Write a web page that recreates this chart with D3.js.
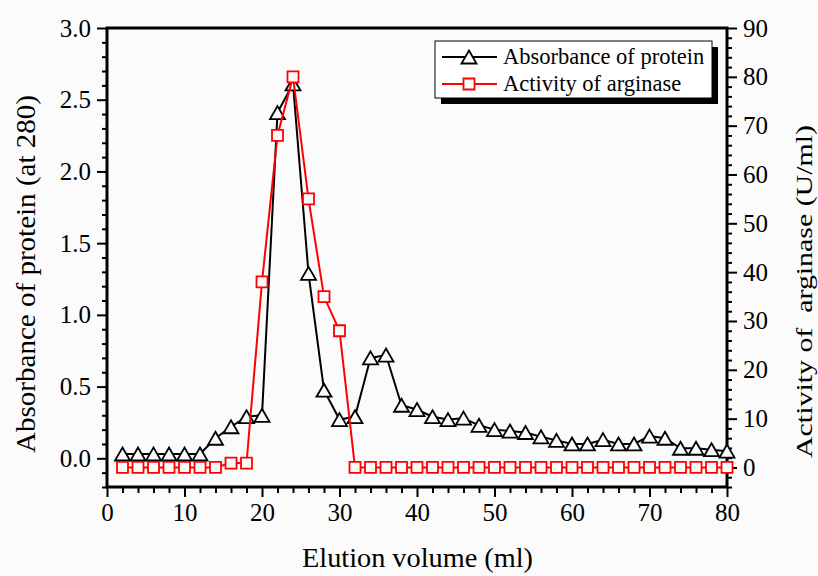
<!DOCTYPE html>
<html>
<head>
<meta charset="utf-8">
<script src="https://cdn.jsdelivr.net/npm/d3@7"></script>
<style>
  html, body { margin: 0; padding: 0; background: #fbfbfb; }
  svg { display: block; }
  svg text { font-family: "Liberation Serif", "Times New Roman", serif; }
</style>
</head>
<body>
<svg id="chart" width="818" height="576"></svg>
<script>
// Elution volume (ml)
const volume = [2, 4, 6, 8, 10, 12, 14, 16, 18, 20, 22, 24, 26, 28, 30, 32, 34, 36, 38, 40,
                42, 44, 46, 48, 50, 52, 54, 56, 58, 60, 62, 64, 66, 68, 70, 72, 74, 76, 78, 80];
// Absorbance of protein (at 280) - left axis
const absorbance = [0.03, 0.03, 0.03, 0.03, 0.03, 0.03, 0.14, 0.22, 0.29, 0.30,
                    2.41, 2.61, 1.29, 0.475, 0.27, 0.29, 0.70, 0.72, 0.37, 0.34,
                    0.29, 0.27, 0.28, 0.23, 0.20, 0.19, 0.18, 0.15, 0.125, 0.10,
                    0.10, 0.13, 0.10, 0.10, 0.155, 0.14, 0.07, 0.07, 0.06, 0.05];
// Activity of arginase (U/ml) - right axis
const activity = [0, 0, 0, 0, 0, 0, 0, 0.9, 0.9, 38,
                  68, 80, 55, 35, 28, 0, 0, 0, 0, 0,
                  0, 0, 0, 0, 0, 0, 0, 0, 0, 0,
                  0, 0, 0, 0, 0, 0, 0, 0, 0, 0];
// Tick values
const xMajor = [0, 10, 20, 30, 40, 50, 60, 70, 80];
const leftMajor = [0.0, 0.5, 1.0, 1.5, 2.0, 2.5, 3.0];
const rightMajor = [0, 10, 20, 30, 40, 50, 60, 70, 80, 90];
const legendLabels = ['Absorbance of protein', 'Activity of arginase'];

const FONT = '"Liberation Serif", "Times New Roman", serif';
const svg = d3.select('#chart');
const margin = { left: 107, top: 28, right: 91, bottom: 89 };
const width = 818 - margin.left - margin.right;
const height = 576 - margin.top - margin.bottom;

const x = d3.scaleLinear().domain([0, 80]).range([0, width]);
const yL = d3.scaleLinear().domain([-0.2, 3.0]).range([height, 0]);
const yR = d3.scaleLinear().domain([-4, 90]).range([height, 0]);

const g = svg.append('g').attr('transform', `translate(${margin.left},${margin.top})`);

// minor tick values
const xMinor = d3.range(0, 81, 2).filter(v => v % 10 !== 0);
const leftMinor = d3.range(-2, 31, 1).map(v => v / 10).filter(v => Math.round(v * 10) % 5 !== 0);
const rightMinor = d3.range(-4, 91, 2).filter(v => v % 10 !== 0);

function styleAxis(sel) {
    sel.attr('font-family', FONT).attr('font-size', 25);
    sel.select('.domain').remove();
    sel.selectAll('line').attr('stroke', '#000').attr('stroke-width', 2);
    sel.selectAll('text').attr('fill', '#000');
}

// bottom axis
g.append('g').attr('transform', `translate(0,${height})`)
    .call(d3.axisBottom(x).tickValues(xMinor).tickSize(6).tickFormat(''))
    .call(styleAxis);
g.append('g').attr('transform', `translate(0,${height})`)
    .call(d3.axisBottom(x).tickValues(xMajor).tickSize(10).tickPadding(6).tickFormat(d3.format('d')))
    .call(styleAxis);

// left axis
g.append('g')
    .call(d3.axisLeft(yL).tickValues(leftMinor).tickSize(5).tickFormat(''))
    .call(styleAxis);
g.append('g')
    .call(d3.axisLeft(yL).tickValues(leftMajor).tickSize(10).tickPadding(6).tickFormat(d3.format('.1f')))
    .call(styleAxis);

// right axis
g.append('g').attr('transform', `translate(${width},0)`)
    .call(d3.axisRight(yR).tickValues(rightMinor).tickSize(5).tickFormat(''))
    .call(styleAxis);
g.append('g').attr('transform', `translate(${width},0)`)
    .call(d3.axisRight(yR).tickValues(rightMajor).tickSize(10).tickPadding(6).tickFormat(d3.format('d')))
    .call(styleAxis);

// frame
g.append('rect')
    .attr('x', 0).attr('y', 0)
    .attr('width', width).attr('height', height)
    .attr('fill', 'none')
    .attr('stroke', '#000')
    .attr('stroke-width', 3);

// axis titles
svg.append('text')
    .attr('x', 417.5)
    .attr('y', 567)
    .attr('text-anchor', 'middle')
    .attr('font-size', 28)
    .attr('textLength', 231)
    .attr('lengthAdjust', 'spacingAndGlyphs')
    .text('Elution volume (ml)');
svg.append('text')
    .attr('transform', 'translate(35,274) rotate(-90)')
    .attr('text-anchor', 'middle')
    .attr('font-size', 28)
    .attr('textLength', 358)
    .attr('lengthAdjust', 'spacingAndGlyphs')
    .text('Absorbance of protein (at 280)');
svg.append('text')
    .attr('transform', 'translate(812,291.5) rotate(-90)')
    .attr('text-anchor', 'middle')
    .attr('font-size', 24)
    .attr('textLength', 333)
    .attr('lengthAdjust', 'spacingAndGlyphs')
    .style('white-space', 'pre')
    .text('Activity of  arginase (U/ml)');

// markers
const tri = 'M0,-6.5L7.5,6.5L-7.5,6.5Z';
const sq = 'M-5.5,-5.5H5.5V5.5H-5.5Z';

const protein = volume.map((v, i) => ({ x: v, y: absorbance[i] }));
const enzyme = volume.map((v, i) => ({ x: v, y: activity[i] }));

g.append('path')
    .datum(protein)
    .attr('fill', 'none')
    .attr('stroke', '#000')
    .attr('stroke-width', 2)
    .attr('d', d3.line().x(d => x(d.x)).y(d => yL(d.y)));
g.append('g').selectAll('path')
    .data(protein)
    .enter()
    .append('path')
    .attr('transform', d => `translate(${x(d.x)},${yL(d.y)})`)
    .attr('d', tri)
    .attr('fill', '#fbfbfb')
    .attr('stroke', '#000')
    .attr('stroke-width', 1.8);

g.append('path')
    .datum(enzyme)
    .attr('fill', 'none')
    .attr('stroke', '#ff0000')
    .attr('stroke-width', 2)
    .attr('d', d3.line().x(d => x(d.x)).y(d => yR(d.y)));
g.append('g').selectAll('path')
    .data(enzyme)
    .enter()
    .append('path')
    .attr('transform', d => `translate(${x(d.x)},${yR(d.y)})`)
    .attr('d', sq)
    .attr('fill', '#fbfbfb')
    .attr('stroke', '#ff0000')
    .attr('stroke-width', 1.8);

// legend with drop shadow
const lg = svg.append('g').attr('transform', 'translate(435,41)');
lg.append('rect').attr('x', 6).attr('y', 6).attr('width', 277).attr('height', 57).attr('fill', '#000');
lg.append('rect').attr('x', 0).attr('y', 0).attr('width', 277).attr('height', 57)
    .attr('fill', '#fff').attr('stroke', '#000').attr('stroke-width', 1);
const legendStyles = [
    { color: '#000', shape: tri },
    { color: '#ff0000', shape: sq }
];
legendLabels.forEach((label, i) => {
    const row = lg.append('g').attr('transform', `translate(0,${16 + i * 27})`);
    row.append('line').attr('x1', 7).attr('x2', 62).attr('y1', 0).attr('y2', 0)
        .attr('stroke', legendStyles[i].color).attr('stroke-width', 2);
    row.append('path').attr('transform', 'translate(34,0)').attr('d', legendStyles[i].shape)
        .attr('fill', '#fff').attr('stroke', legendStyles[i].color).attr('stroke-width', 1.8);
    row.append('text').attr('x', 68).attr('y', 7).attr('font-size', 22.5).text(label);
});
</script>
</body>
</html>
